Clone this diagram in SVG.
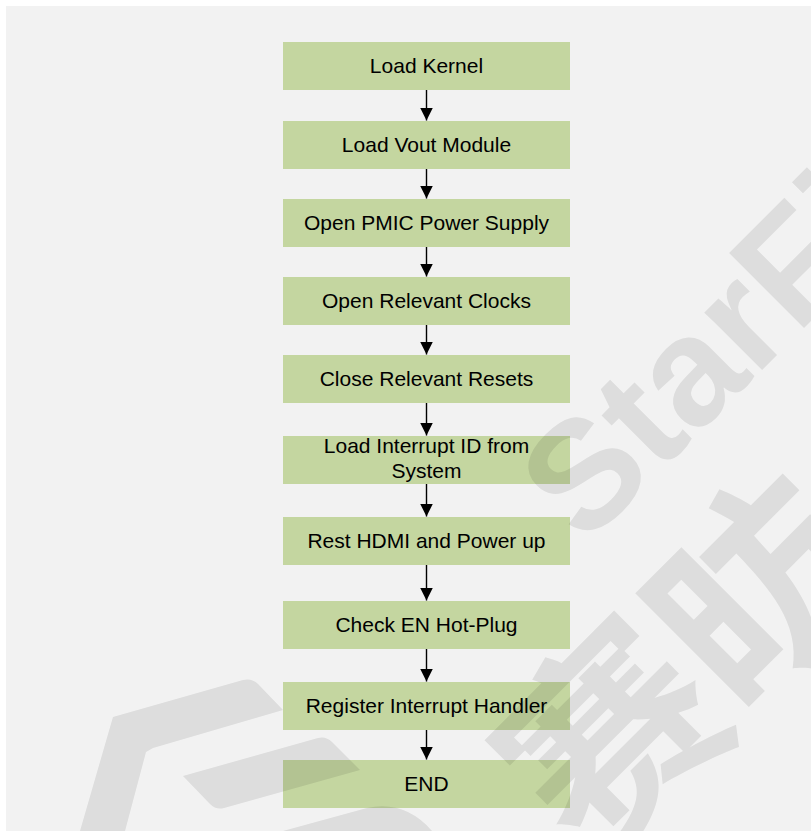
<svg xmlns="http://www.w3.org/2000/svg" width="811" height="831" viewBox="0 0 811 831">
  <style>
    .box { fill: #c4d6a0; }
    .lbl { font-family: "Liberation Sans", Arial, sans-serif; font-size: 21px; fill: #000; text-anchor: middle; }
    .edge { stroke: #000; stroke-width: 1.4; fill: none; marker-end: url(#arrow); }
    .wm-latin { font-family: "Liberation Sans", Arial, sans-serif; font-weight: bold; font-size: 154px; }
    .wm-cjk { font-family: "Noto Sans CJK SC", sans-serif; font-weight: bold; font-size: 210px; }
  </style>
  <defs>
    <marker id="arrow" markerUnits="userSpaceOnUse" markerWidth="14" markerHeight="14" refX="13" refY="6.5" orient="auto">
      <path d="M0,0 L13,6.5 L0,13 z" fill="#000"/>
    </marker>
    <clipPath id="page-clip">
      <rect x="6" y="6" width="805" height="825"/>
    </clipPath>
  </defs>

  <!-- page -->
  <rect x="0" y="0" width="811" height="831" fill="#ffffff"/>
  <rect x="6" y="6" width="805" height="825" fill="#f2f2f2"/>

  <!-- steps -->
  <g id="n1"><rect class="box" x="283" y="42" width="287" height="48"/><text class="lbl" x="426.5" y="73">Load Kernel</text></g>
  <g id="n2"><rect class="box" x="283" y="121" width="287" height="48"/><text class="lbl" x="426.5" y="152">Load Vout Module</text></g>
  <g id="n3"><rect class="box" x="283" y="199" width="287" height="48"/><text class="lbl" x="426.5" y="230">Open PMIC Power Supply</text></g>
  <g id="n4"><rect class="box" x="283" y="277" width="287" height="48"/><text class="lbl" x="426.5" y="308">Open Relevant Clocks</text></g>
  <g id="n5"><rect class="box" x="283" y="355" width="287" height="48"/><text class="lbl" x="426.5" y="386">Close Relevant Resets</text></g>
  <g id="n6"><rect class="box" x="283" y="436" width="287" height="48"/><text class="lbl" x="426.5" y="452.5">Load Interrupt ID from</text><text class="lbl" x="426.5" y="477.5">System</text></g>
  <g id="n7"><rect class="box" x="283" y="517" width="287" height="48"/><text class="lbl" x="426.5" y="548">Rest HDMI and Power up</text></g>
  <g id="n8"><rect class="box" x="283" y="601" width="287" height="48"/><text class="lbl" x="426.5" y="632">Check EN Hot-Plug</text></g>
  <g id="n9"><rect class="box" x="283" y="682" width="287" height="48"/><text class="lbl" x="426.5" y="713">Register Interrupt Handler</text></g>
  <g id="n10"><rect class="box" x="283" y="760" width="287" height="48"/><text class="lbl" x="426.5" y="791">END</text></g>

  <!-- connectors -->
  <g id="edges">
    <line class="edge" x1="426.5" y1="90" x2="426.5" y2="120.5"/>
    <line class="edge" x1="426.5" y1="169" x2="426.5" y2="198.5"/>
    <line class="edge" x1="426.5" y1="247" x2="426.5" y2="276.5"/>
    <line class="edge" x1="426.5" y1="325" x2="426.5" y2="354.5"/>
    <line class="edge" x1="426.5" y1="403" x2="426.5" y2="435.5"/>
    <line class="edge" x1="426.5" y1="484" x2="426.5" y2="516.5"/>
    <line class="edge" x1="426.5" y1="565" x2="426.5" y2="600.5"/>
    <line class="edge" x1="426.5" y1="649" x2="426.5" y2="681.5"/>
    <line class="edge" x1="426.5" y1="730" x2="426.5" y2="759.5"/>
  </g>

  <!-- watermark overlay -->
  <g id="watermark" opacity="0.09" fill="#000" clip-path="url(#page-clip)">
    <path d="M80,831 L113,717 L243,680 Q252,678 258,684 L283,710 L153,748 L146,752 L125,831 Z"/>
    <path d="M183,776 L318,738 Q326,736 332,742 L360,770 L224,808 Q216,810 210,804 Z"/>
    <path d="M283,831 L367,808 Q405,800 432,831 Z"/>
    <text class="wm-latin" transform="translate(585,547) rotate(-45)">StarFive</text>
    <text class="wm-cjk" transform="translate(592,867) rotate(-45)">赛昉</text>
  </g>
</svg>
